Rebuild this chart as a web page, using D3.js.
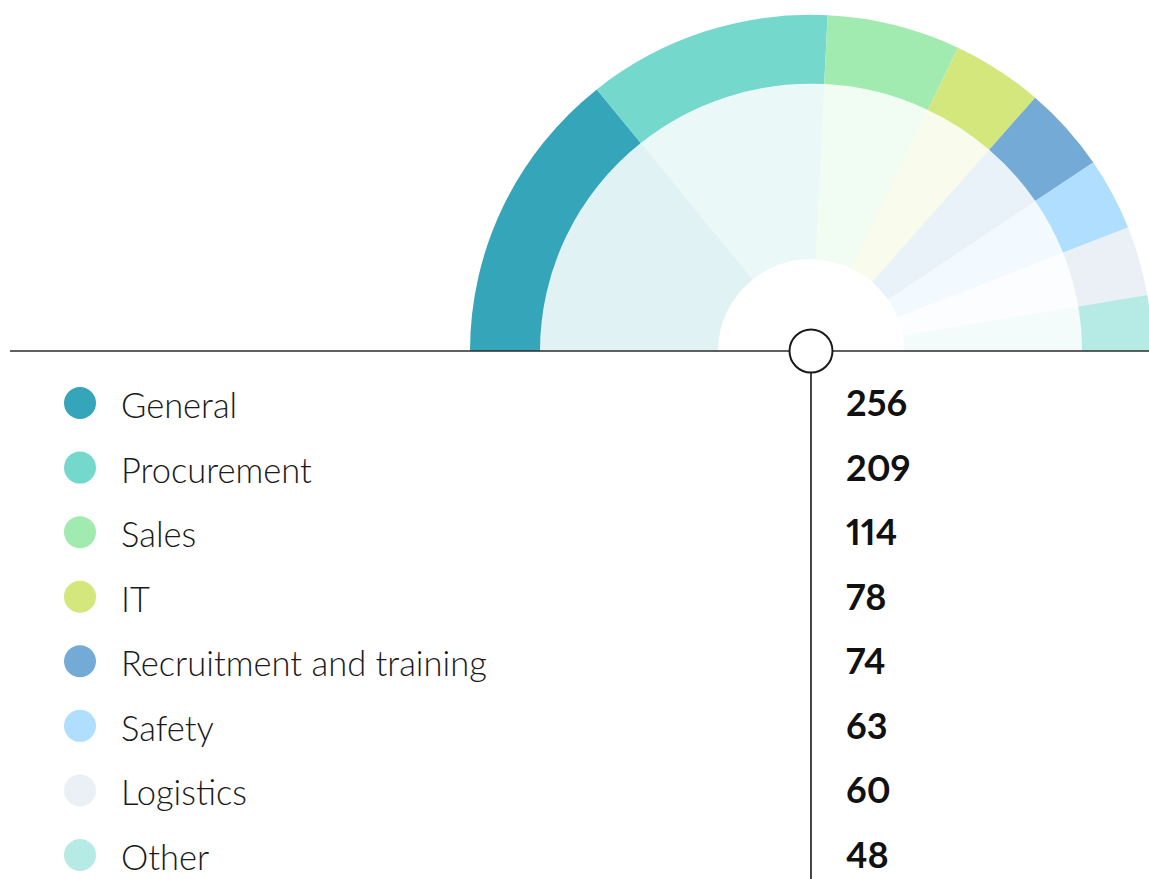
<!DOCTYPE html>
<html>
<head>
<meta charset="utf-8">
<script src="https://cdn.jsdelivr.net/npm/d3@7"></script>
<style>
  html, body { margin: 0; padding: 0; background: #fff; }
  svg { display: block; }
  .num { font-variant-numeric: proportional-nums; }
</style>
</head>
<body>
<div class="half-donut"></div>
<script>
const categories = ['General', 'Procurement', 'Sales', 'IT', 'Recruitment and training', 'Safety', 'Logistics', 'Other'];
const counts = [256, 209, 114, 78, 74, 63, 60, 48];
const colors = ['#35a5b9', '#75d8cd', '#a1ebb1', '#d4e77d', '#74aad6', '#afdeff', '#eaf0f5', '#b6eae4'];

const W = 1149, H = 879;
const cx = 811, cy = 351;

const svg = d3.select('.half-donut').append('svg')
  .attr('width', W)
  .attr('height', H);

const data = categories.map((c, i) => ({ name: c, value: counts[i], color: colors[i] }));

// half pie, left to right over the top
const pie = d3.pie()
  .sort(null)
  .value(d => d.value)
  .startAngle(-Math.PI / 2)
  .endAngle(Math.PI / 2);

const arcs = pie(data);

const outer = d3.arc().innerRadius(271).outerRadius(341);
const inner = d3.arc().innerRadius(93).outerRadius(271);

// the reference is very slightly squashed vertically
const chart = svg.append('g').attr('transform', `translate(${cx}, ${cy}) scale(1, 0.986)`);

// light inner wedges
chart.selectAll('path.inner')
  .data(arcs)
  .enter().append('path')
  .attr('class', 'inner')
  .attr('d', inner)
  .attr('fill', d => d.data.color)
  .attr('fill-opacity', 0.15);

// coloured outer band
chart.selectAll('path.outer')
  .data(arcs)
  .enter().append('path')
  .attr('class', 'outer')
  .attr('d', outer)
  .attr('fill', d => d.data.color);

// base line + vertical divider
svg.append('line')
  .attr('x1', 10).attr('x2', W)
  .attr('y1', cy).attr('y2', cy)
  .attr('stroke', '#2b2b2b')
  .attr('stroke-width', 1.6);

svg.append('line')
  .attr('x1', cx).attr('x2', cx)
  .attr('y1', cy).attr('y2', H)
  .attr('stroke', '#1a1a1a')
  .attr('stroke-width', 1.6);

svg.append('circle')
  .attr('cx', cx).attr('cy', cy)
  .attr('r', 21.5)
  .attr('fill', '#fff')
  .attr('stroke', '#1a1a1a')
  .attr('stroke-width', 2);

// legend rows
const y = d3.scalePoint()
  .domain(categories)
  .range([403, 855]);

const rows = svg.selectAll('g.row')
  .data(data)
  .enter().append('g')
  .attr('class', 'row')
  .attr('transform', d => `translate(0, ${y(d.name)})`);

rows.append('circle')
  .attr('cx', 80)
  .attr('r', 16)
  .attr('fill', d => d.color);

rows.append('text')
  .attr('x', 121)
  .attr('y', 15)
  .attr('font-family', 'Lato, sans-serif')
  .attr('font-weight', 300)
  .attr('font-size', 34.5)
  .attr('fill', '#1a1a1a')
  .text(d => d.name);

rows.append('text')
  .attr('class', 'num')
  .attr('x', 846)
  .attr('y', 13)
  .attr('font-family', 'Lato, sans-serif')
  .attr('font-weight', 700)
  .attr('font-size', 36)
  .attr('fill', '#111')
  .text(d => d.value);
</script>
</body>
</html>
